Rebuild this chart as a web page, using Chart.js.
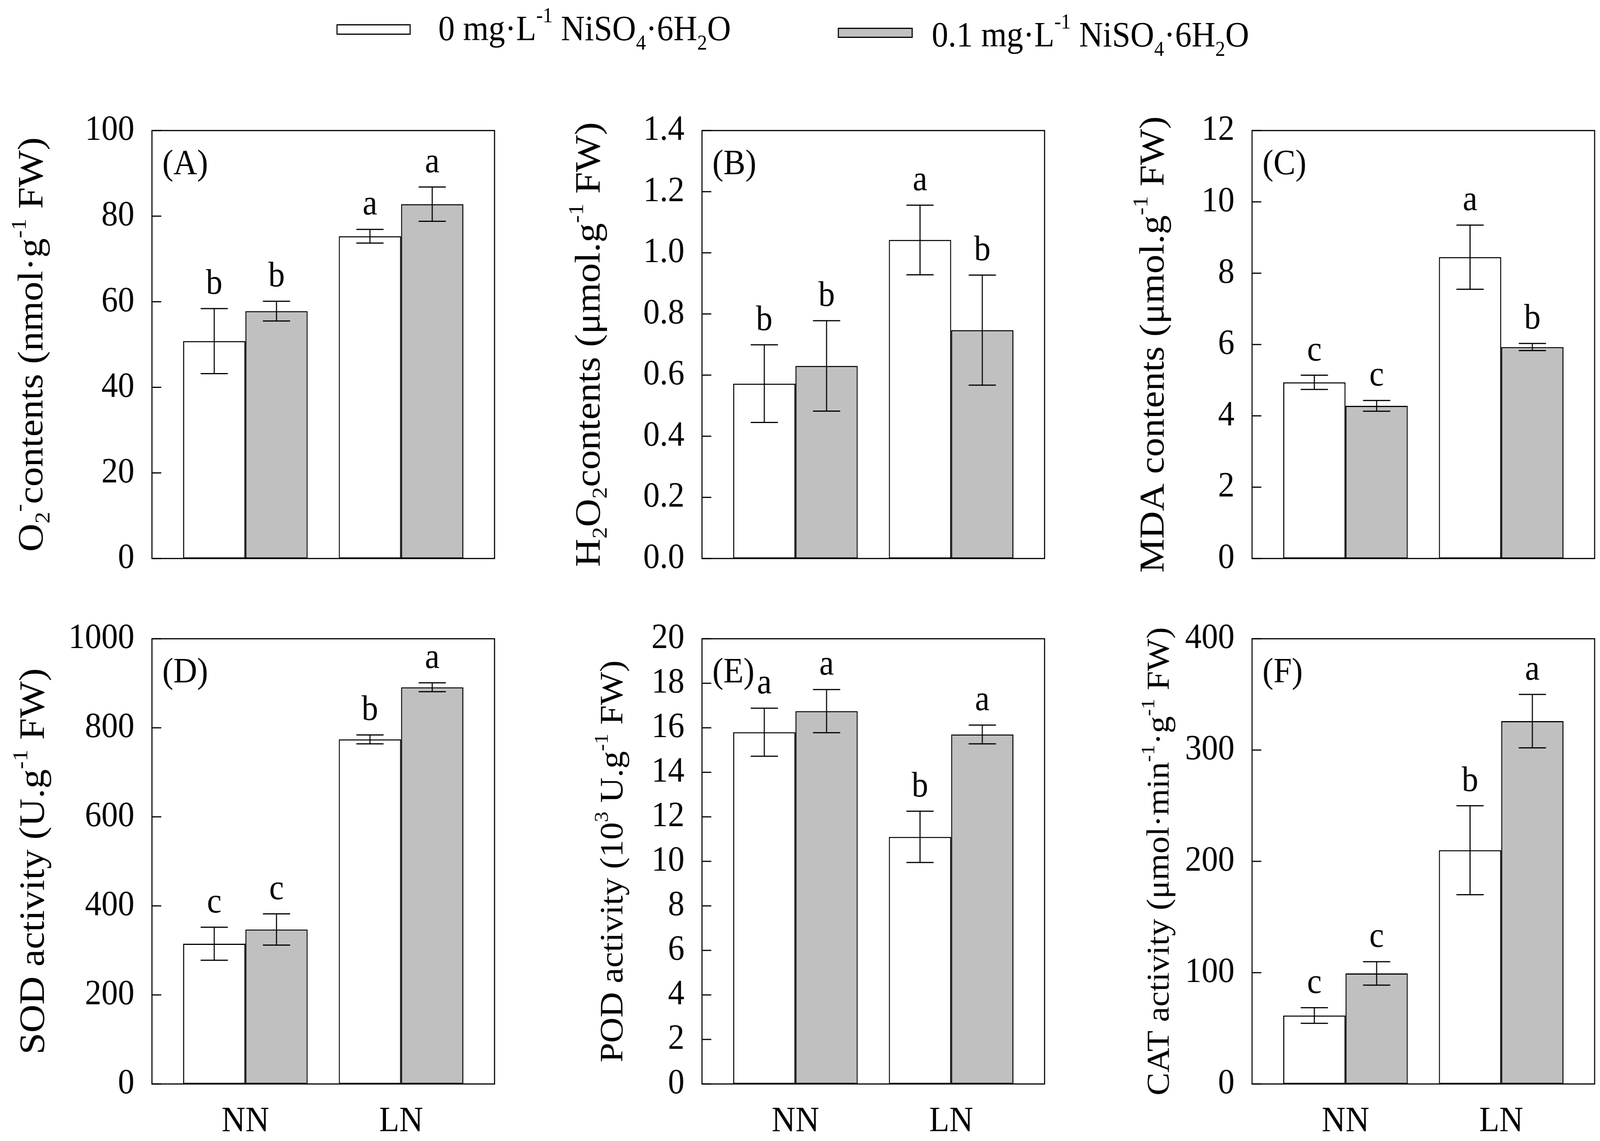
<!DOCTYPE html>
<html>
<head>
<meta charset="utf-8">
<script src="https://cdn.jsdelivr.net/npm/chart.js@4.4.0/dist/chart.umd.min.js"></script>
<style>
html,body{margin:0;padding:0;background:#fff;overflow:hidden;}
body{width:100%;height:2921px;position:relative;font-family:"Liberation Serif","Times New Roman",serif;}
#wrap{position:absolute;left:0;top:0;width:4465px;height:2921px;transform-origin:0 0;background:#fff;}
canvas{position:absolute;}
.leg{position:absolute;font-size:92px;line-height:1;white-space:nowrap;color:#000;}
.leg sup{font-size:60%;vertical-align:46px;line-height:0;}
.leg sub{font-size:60%;vertical-align:-24px;line-height:0;}
.box{position:absolute;border:3px solid #000;box-sizing:border-box;}
</style>
</head>
<body>
<div id="wrap"></div>
<script>
// ---------------- data ----------------
const categories = ['NN', 'LN'];
const seriesNames = ['0 mg·L-1 NiSO4·6H2O', '0.1 mg·L-1 NiSO4·6H2O'];
const legendLabels = ['0 mg·L<sup>-1</sup> NiSO<sub>4</sub>·6H<sub>2</sub>O',
                      '0.1 mg·L<sup>-1</sup> NiSO<sub>4</sub>·6H<sub>2</sub>O'];
const seriesColors = ['#ffffff', '#c0c0c0'];

// (A) O2- contents
const aCtrl = [50.8, 75.3];
const aCtrlErr = [7.6, 1.6];
const aNi = [57.8, 82.8];
const aNiErr = [2.3, 4.0];
const aCtrlLetters = ['b', 'a'];
const aNiLetters = ['b', 'a'];
const aYMax = 100, aYStep = 20;

// (B) H2O2 contents
const bCtrl = [0.572, 1.042];
const bCtrlErr = [0.127, 0.114];
const bNi = [0.630, 0.747];
const bNiErr = [0.148, 0.180];
const bCtrlLetters = ['b', 'a'];
const bNiLetters = ['b', 'b'];
const bYMax = 1.4, bYStep = 0.2;

// (C) MDA contents
const cCtrl = [4.94, 8.45];
const cCtrlErr = [0.20, 0.90];
const cNi = [4.28, 5.93];
const cNiErr = [0.15, 0.10];
const cCtrlLetters = ['c', 'a'];
const cNiLetters = ['c', 'b'];
const cYMax = 12, cYStep = 2;

// (D) SOD activity
const dCtrl = [315, 774];
const dCtrlErr = [37, 10];
const dNi = [347, 891];
const dNiErr = [35, 10];
const dCtrlLetters = ['c', 'b'];
const dNiLetters = ['c', 'a'];
const dYMax = 1000, dYStep = 200;

// (E) POD activity
const eCtrl = [15.8, 11.1];
const eCtrlErr = [1.08, 1.15];
const eNi = [16.75, 15.7];
const eNiErr = [0.97, 0.42];
const eCtrlLetters = ['a', 'b'];
const eNiLetters = ['a', 'a'];
const eYMax = 20, eYStep = 2;

// (F) CAT activity
const fCtrl = [61.5, 210];
const fCtrlErr = [7, 40];
const fNi = [99.3, 326];
const fNiErr = [10.5, 24];
const fCtrlLetters = ['c', 'b'];
const fNiLetters = ['c', 'a'];
const fYMax = 400, fYStep = 100;

// axis titles (rich text segments)
const aTitle = [{t:'O'},{t:'2',sub:1},{t:'-',sup:1},{t:'contents (nmol·g'},{t:'-1',sup:1},{t:' FW)'}];
const bTitle = [{t:'H'},{t:'2',sub:1},{t:'O'},{t:'2',sub:1},{t:'contents (μmol.g'},{t:'-1',sup:1},{t:' FW)'}];
const cTitle = [{t:'MDA contents (μmol.g'},{t:'-1',sup:1},{t:' FW)'}];
const dTitle = [{t:'SOD activity (U.g'},{t:'-1',sup:1},{t:' FW)'}];
const eTitle = [{t:'POD activity (10'},{t:'3',sup:1},{t:' U.g'},{t:'-1',sup:1},{t:' FW)'}];
const fTitle = [{t:'CAT activity (μmol·min'},{t:'-1',sup:1},{t:'·g'},{t:'-1',sup:1},{t:' FW)'}];

// ---------------- layout ----------------
const FONT = '"Liberation Serif", "Times New Roman", serif';
const PAGE_W = 4465, PAGE_H = 2921;
const plotLefts = [424, 1959, 3494];
const plotTops = [328, 1629];
const plotW = 956, plotH = 1146, axisW = 424, padTop = 98;

const wrap = document.getElementById('wrap');
const sx = Math.min(1, (window.innerWidth || PAGE_W) / PAGE_W);
wrap.style.transform = 'scale(' + sx + ',1)';

const panels = [
  {key:'A', row:0, col:0, ctrl:aCtrl, ctrlErr:aCtrlErr, ni:aNi, niErr:aNiErr, ctrlLet:aCtrlLetters, niLet:aNiLetters, yMax:aYMax, yStep:aYStep, dec:0, title:aTitle, titleSize:100, titleOff:306},
  {key:'B', row:0, col:1, ctrl:bCtrl, ctrlErr:bCtrlErr, ni:bNi, niErr:bNiErr, ctrlLet:bCtrlLetters, niLet:bNiLetters, yMax:bYMax, yStep:bYStep, dec:1, title:bTitle, titleSize:100, titleOff:286},
  {key:'C', row:0, col:2, ctrl:cCtrl, ctrlErr:cCtrlErr, ni:cNi, niErr:cNiErr, ctrlLet:cCtrlLetters, niLet:cNiLetters, yMax:cYMax, yStep:cYStep, dec:0, title:cTitle, titleSize:98, titleOff:247},
  {key:'D', row:1, col:0, ctrl:dCtrl, ctrlErr:dCtrlErr, ni:dNi, niErr:dNiErr, ctrlLet:dCtrlLetters, niLet:dNiLetters, yMax:dYMax, yStep:dYStep, dec:0, title:dTitle, titleSize:100, titleOff:302},
  {key:'E', row:1, col:1, ctrl:eCtrl, ctrlErr:eCtrlErr, ni:eNi, niErr:eNiErr, ctrlLet:eCtrlLetters, niLet:eNiLetters, yMax:eYMax, yStep:eYStep, dec:0, title:eTitle, titleSize:90, titleOff:222},
  {key:'F', row:1, col:2, ctrl:fCtrl, ctrlErr:fCtrlErr, ni:fNi, niErr:fNiErr, ctrlLet:fCtrlLetters, niLet:fNiLetters, yMax:fYMax, yStep:fYStep, dec:0, title:fTitle, titleSize:88, titleOff:233}
];

// ---------------- legend (HTML text) ----------------
const legendPos = [
  {box:[939, 62, 207, 27], text:[1223, 26]},
  {box:[2338, 71, 209, 26], text:[2600, 42]}
];
legendLabels.forEach((lab, i) => {
  const lp = legendPos[i];
  const b = document.createElement('div');
  b.className = 'box';
  b.style.cssText = `left:${lp.box[0]}px;top:${lp.box[1]}px;width:${lp.box[2]}px;height:${lp.box[3]}px;background:${seriesColors[i]}`;
  wrap.appendChild(b);
  const t = document.createElement('div');
  t.className = 'leg';
  t.style.left = lp.text[0] + 'px';
  t.style.top = lp.text[1] + 'px';
  t.innerHTML = lab;
  wrap.appendChild(t);
});

// ---------------- rich text helpers ----------------
function segFont(seg, size) {
  return ((seg.sub || seg.sup) ? Math.round(size * 0.6) : size) + 'px ' + FONT;
}
function richWidth(ctx, segs, size) {
  let w = 0;
  segs.forEach(s => { ctx.font = segFont(s, size); w += ctx.measureText(s.t).width; });
  return w;
}
function drawRotatedRich(ctx, segs, size, bx, cy) {
  ctx.save();
  ctx.translate(bx, cy);
  ctx.rotate(-Math.PI / 2);
  ctx.textAlign = 'left';
  ctx.textBaseline = 'alphabetic';
  const W = richWidth(ctx, segs, size);
  let x = -W / 2;
  segs.forEach(s => {
    ctx.font = segFont(s, size);
    let dy = 0;
    if (s.sub) dy = size * 0.2;
    if (s.sup) dy = -size * 0.46;
    ctx.fillText(s.t, x, dy);
    x += ctx.measureText(s.t).width;
  });
  ctx.restore();
}

function decoPlugin(p) {
  return {
    id: 'deco' + p.key,
    afterDatasetsDraw(chart) {
      const ctx = chart.ctx, ca = chart.chartArea, ys = chart.scales.y;
      ctx.save();
      ctx.strokeStyle = '#000';
      ctx.fillStyle = '#000';
      ctx.lineWidth = 3;
      chart.data.datasets.forEach((ds, di) => {
        const meta = chart.getDatasetMeta(di);
        meta.data.forEach((bar, i) => {
          const v = ds.data[i].y, e = ds.errs[i];
          const yt = ys.getPixelForValue(v + e), yb = ys.getPixelForValue(v - e);
          ctx.beginPath();
          ctx.moveTo(bar.x, yt); ctx.lineTo(bar.x, yb);
          ctx.moveTo(bar.x - 38, yt); ctx.lineTo(bar.x + 38, yt);
          ctx.moveTo(bar.x - 38, yb); ctx.lineTo(bar.x + 38, yb);
          ctx.stroke();
          ctx.font = '92px ' + FONT;
          ctx.textAlign = 'center';
          ctx.textBaseline = 'alphabetic';
          ctx.fillText(ds.letters[i], bar.x, yt - 38);
        });
      });
      ctx.strokeRect(ca.left, ca.top, ca.right - ca.left, ca.bottom - ca.top);
      ys.ticks.forEach(t => {
        const y = ys.getPixelForValue(t.value);
        ctx.beginPath(); ctx.moveTo(ca.left, y); ctx.lineTo(ca.left + 26, y); ctx.stroke();
      });
      ctx.font = '92px ' + FONT;
      ctx.textAlign = 'left';
      ctx.textBaseline = 'alphabetic';
      ctx.fillText('(' + p.key + ')', ca.left + 29, ca.top + 112);
      drawRotatedRich(ctx, p.title, p.titleSize, ca.left - p.titleOff, (ca.top + ca.bottom) / 2);
      ctx.restore();
    }
  };
}

// ---------------- charts ----------------
panels.forEach(p => {
  const cv = document.createElement('canvas');
  const left = plotLefts[p.col] - axisW;
  const top = plotTops[p.row] - padTop;
  const bottomH = p.row === 0 ? 60 : 146;
  const height = padTop + plotH + bottomH;
  const width = axisW + plotW + 12;
  cv.width = width; cv.height = height;
  cv.style.left = left + 'px'; cv.style.top = top + 'px';
  cv.style.width = width + 'px'; cv.style.height = height + 'px';
  wrap.appendChild(cv);

  const mk = (vals, errs, lets, idx) => ({
    label: seriesNames[idx],
    data: categories.map((c, i) => ({x: i, y: vals[i]})),
    errs: errs,
    letters: lets,
    backgroundColor: seriesColors[idx],
    borderColor: '#000',
    borderWidth: 3,
    borderSkipped: false,
    categoryPercentage: 0.8,
    barPercentage: 1.0
  });

  new Chart(cv, {
    type: 'bar',
    data: {datasets: [mk(p.ctrl, p.ctrlErr, p.ctrlLet, 0), mk(p.ni, p.niErr, p.niLet, 1)]},
    options: {
      responsive: false,
      devicePixelRatio: 1,
      animation: false,
      layout: {padding: {top: padTop, right: 12, left: 0, bottom: 0}},
      plugins: {legend: {display: false}, tooltip: {enabled: false}},
      scales: {
        x: {
          type: 'linear', min: -0.6, max: 1.6, offset: false,
          grid: {display: false, drawTicks: false},
          border: {display: false},
          afterBuildTicks: s => { s.ticks = categories.map((c, i) => ({value: i})); },
          ticks: {
            display: p.row === 1, autoSkip: false, maxRotation: 0,
            font: {family: FONT, size: 92}, color: '#000', padding: 42,
            callback: v => (categories[v] !== undefined ? categories[v] : '')
          },
          afterFit: s => { s.height = bottomH; }
        },
        y: {
          min: 0, max: p.yMax,
          grid: {display: false, drawTicks: false},
          border: {display: false},
          ticks: {
            stepSize: p.yStep, font: {family: FONT, size: 92}, color: '#000', padding: 49,
            callback: v => Number(v).toFixed(p.dec)
          },
          afterFit: s => { s.width = axisW; }
        }
      }
    },
    plugins: [decoPlugin(p)]
  });
});
</script>
</body>
</html>
